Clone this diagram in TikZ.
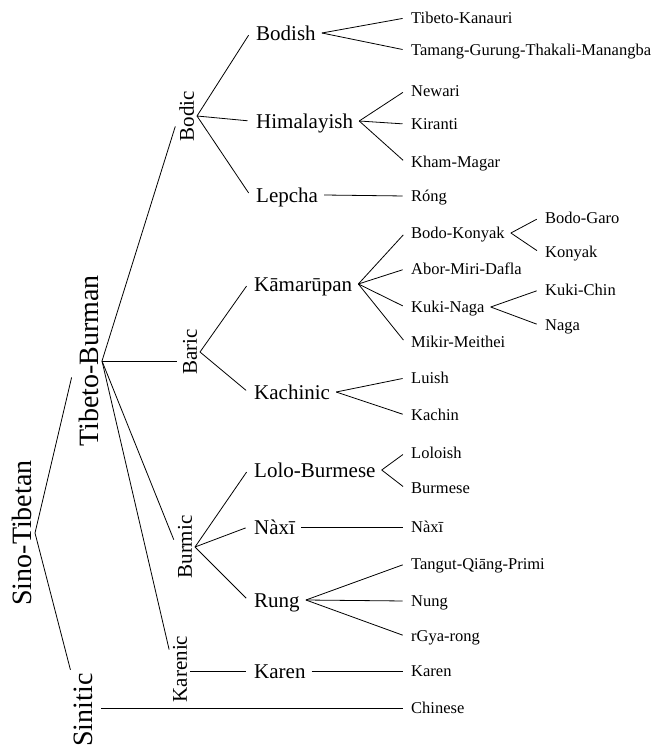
\documentclass[tikz,border=0pt]{standalone}
\usepackage{fontspec}
\setmainfont{Liberation Serif}
\usepackage{tikz}

\begin{document}
\begin{tikzpicture}[x=1pt, y=-1pt,
  stock/.style={font=\fontsize{28}{30}\selectfont, rotate=90, anchor=south, inner xsep=1pt, inner ysep=3pt, text depth=0pt},
  grp/.style={font=\fontsize{21}{24}\selectfont, rotate=90, anchor=south, inner xsep=1pt, inner ysep=3pt, text depth=0pt},
  fam/.style={font=\fontsize{21}{24}\selectfont, anchor=west, inner xsep=6pt, inner ysep=1pt, text height=14pt, text depth=0pt},
  lang/.style={font=\fontsize{16.5}{19}\selectfont, anchor=west, inner xsep=6pt, inner ysep=1pt, text height=11.2pt, text depth=0pt},
  br/.style={line width=.8pt, shorten >=2.5pt}]
            \useasboundingbox (0,0) rectangle (656,747);
            \node[stock] (sinotibetan) at (35,533) {Sino-Tibetan};
            \node[stock] (tibetoburman) at (102,361) {Tibeto-Burman};
            \node[stock] (sinitic) at (96,710) {Sinitic};
            \node[grp] (bodic) at (197,116) {Bodic};
            \node[grp] (baric) at (200,352) {Baric};
            \node[grp] (burmic) at (195,547) {Burmic};
            \node[grp] (karenic) at (190,669) {Karenic};
            \node[fam] (bodish) at (250,33) {Bodish};
            \node[fam] (himalayish) at (250,121) {Himalayish};
            \node[fam] (lepcha) at (250,195) {Lepcha};
            \node[fam] (kamarupan) at (248,284) {Kāmarūpan};
            \node[fam] (kachinic) at (248,392) {Kachinic};
            \node[fam] (loloburmese) at (248,470) {Lolo-Burmese};
            \node[fam] (naxi) at (248,527) {Nàxī};
            \node[fam] (rung) at (248,600) {Rung};
            \node[fam] (karen) at (248,671) {Karen};
            \node[lang] (tibetokanauri) at (405,18) {Tibeto-Kanauri};
            \node[lang] (tamang) at (405,50) {Tamang-Gurung-Thakali-Manangba};
            \node[lang] (newari) at (405,91) {Newari};
            \node[lang] (kiranti) at (405,124) {Kiranti};
            \node[lang] (khammagar) at (405,162) {Kham-Magar};
            \node[lang] (rong) at (405,196) {Róng};
            \node[lang] (bodokonyak) at (405,233) {Bodo-Konyak};
            \node[lang] (abor) at (405,269) {Abor-Miri-Dafla};
            \node[lang] (kukinaga) at (405,307) {Kuki-Naga};
            \node[lang] (mikir) at (405,342) {Mikir-Meithei};
            \node[lang] (bodogaro) at (539,218) {Bodo-Garo};
            \node[lang] (konyak) at (539,252) {Konyak};
            \node[lang] (kukichin) at (539,290) {Kuki-Chin};
            \node[lang] (naga) at (539,325) {Naga};
            \node[lang] (luish) at (405,378) {Luish};
            \node[lang] (kachin) at (405,415) {Kachin};
            \node[lang] (loloish) at (405,453) {Loloish};
            \node[lang] (burmese) at (405,488) {Burmese};
            \node[lang] (naxitwo) at (405,527) {Nàxī};
            \node[lang] (tangut) at (405,564) {Tangut-Qiāng-Primi};
            \node[lang] (nung) at (405,601) {Nung};
            \node[lang] (rgyarong) at (405,636) {rGya-rong};
            \node[lang] (karentwo) at (405,671) {Karen};
            \node[lang] (chinese) at (405,708) {Chinese};
            \draw[br] (sinotibetan.south) -- ([xshift=-4pt,yshift=-14pt]tibetoburman.north);
            \draw[br] (sinotibetan.south) -- (sinitic.north east);
            \draw[br] (tibetoburman.south) -- ([yshift=-8pt]bodic.north);
            \draw[br] (tibetoburman.south) -- (tibetoburman.south -| baric.north);
            \draw[br] (tibetoburman.south) -- ([yshift=5pt]burmic.north);
            \draw[br] (tibetoburman.south) -- ([yshift=17pt]karenic.north);
            \draw[br] ([xshift=5pt]sinitic.south |- chinese.west) -- (chinese.west);
            \draw[br] (bodic.south) -- (bodish.west);
            \draw[br] (bodic.south) -- (himalayish.west);
            \draw[br] (bodic.south) -- (lepcha.west);
            \draw[br] (baric.south) -- (kamarupan.west);
            \draw[br] (baric.south) -- (kachinic.west);
            \draw[br] (burmic.south) -- (loloburmese.west);
            \draw[br] (burmic.south) -- (naxi.west);
            \draw[br] (burmic.south) -- (rung.west);
            \draw[br] (karenic.south |- karen.west) -- (karen.west);
            \draw[br] (bodish.east) -- (tibetokanauri.west);
            \draw[br] (bodish.east) -- (tamang.west);
            \draw[br] (himalayish.east) -- (newari.west);
            \draw[br] (himalayish.east) -- (kiranti.west);
            \draw[br] (himalayish.east) -- (khammagar.west);
            \draw[br] (lepcha.east) -- (rong.west);
            \draw[br] (kamarupan.east) -- (bodokonyak.west);
            \draw[br] (kamarupan.east) -- (abor.west);
            \draw[br] (kamarupan.east) -- (kukinaga.west);
            \draw[br] (kamarupan.east) -- (mikir.west);
            \draw[br] (bodokonyak.east) -- (bodogaro.west);
            \draw[br] (bodokonyak.east) -- (konyak.west);
            \draw[br] (kukinaga.east) -- (kukichin.west);
            \draw[br] (kukinaga.east) -- (naga.west);
            \draw[br] (kachinic.east) -- (luish.west);
            \draw[br] (kachinic.east) -- (kachin.west);
            \draw[br] (loloburmese.east) -- (loloish.west);
            \draw[br] (loloburmese.east) -- (burmese.west);
            \draw[br] (naxi.east) -- (naxitwo.west);
            \draw[br] (rung.east) -- (tangut.west);
            \draw[br] (rung.east) -- (nung.west);
            \draw[br] (rung.east) -- (rgyarong.west);
            \draw[br] (karen.east) -- (karentwo.west);
        \end{tikzpicture}
\end{document}
